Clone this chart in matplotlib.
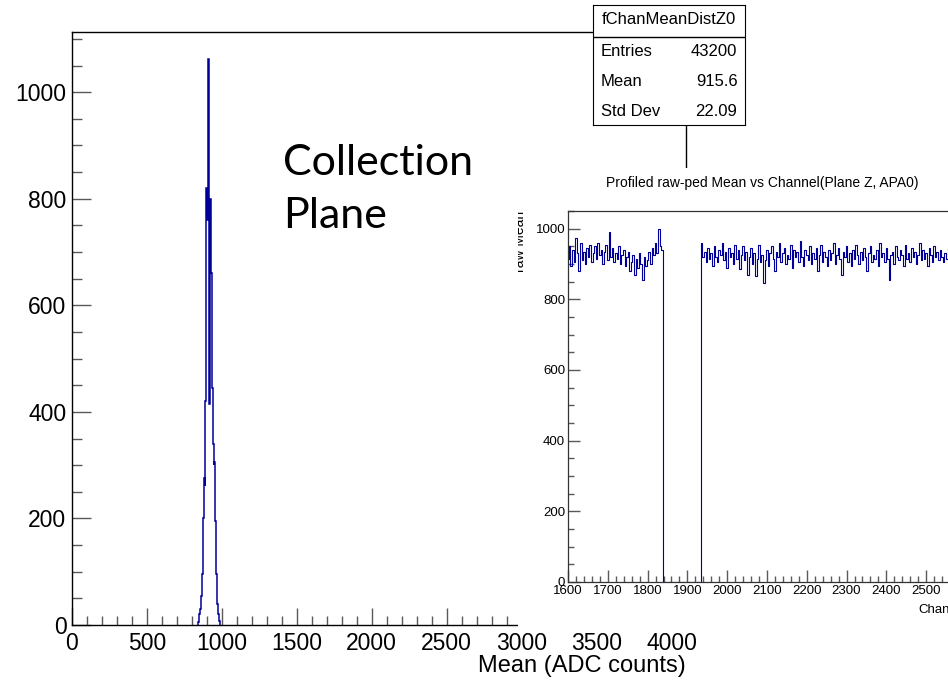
import numpy as np
import matplotlib
matplotlib.use('Agg')
import matplotlib.pyplot as plt
from matplotlib.ticker import MultipleLocator

plt.rcParams['font.family'] = ['Liberation Sans', 'DejaVu Sans']

# histogram of channel means (bin width 4 ADC, starting at 840)
bin_start = 840
bin_width = 4
counts = [5, 15, 20, 25, 30, 55, 70, 95, 110, 200,
          275, 260, 420, 510, 820, 760, 940, 1063, 850, 415,
          800, 745, 660, 560, 445, 340, 300, 305, 230, 195,
          95, 45, 40, 25, 20, 8, 3]

stats_name = 'fChanMeanDistZ0'
stats_rows = [('Entries', '43200'), ('Mean', '915.6'), ('Std Dev', '22.09')]

# profile: mean per channel, one value every 4 channels from 1600
ch_start = 1600
ch_step = 4
prof_means = [915, 950, 895, 940, 905, 975, 930, 880, 960, 910,
              935, 900, 945, 920, 955, 905, 930, 950, 915, 960,
              925, 940, 900, 935, 955, 910, 990, 920, 945, 905,
              930, 915, 950, 900, 925, 940, 895, 920, 935, 880,
              905, 925, 870, 915, 890, 930, 900, 855, 920, 895,
              910, 935, 900, 945, 925, 960, 930, 1000, 950, 940,
              0, 0, 0, 0, 0, 0, 0, 0, 0, 0, 0, 0,
              0, 0, 0, 0, 0, 0, 0, 0, 0, 0, 0, 0,
              960, 920, 935, 905, 945, 915, 930, 895, 950, 920,
              905, 940, 925, 960, 910, 935, 890, 945, 920, 930,
              900, 955, 915, 940, 885, 925, 950, 910, 935, 870,
              920, 945, 900, 930, 865, 915, 955, 905, 925, 845,
              910, 940, 895, 930, 950, 915, 880, 935, 920, 960,
              905, 930, 945, 900, 925, 915, 955, 890, 940, 920,
              935, 905, 965, 920, 895, 940, 925, 910, 950, 900,
              930, 915, 945, 880, 925, 955, 905, 935, 920, 895,
              940, 910, 930, 960, 900, 925, 945, 915, 870, 935,
              920, 950, 905, 930, 895, 940, 915, 955, 925, 900,
              935, 910, 945, 920, 880, 930, 950, 905, 925, 915,
              940, 895, 960, 920, 930, 905, 945, 915, 855, 925,
              935, 900, 950, 920, 910, 940, 925, 895, 955, 915,
              930, 905, 945, 920, 935, 900, 925, 960, 910, 940,
              915, 930, 895, 945, 925, 905, 950, 920, 935, 910,
              940, 920, 905, 930, 915, 945]

blue = '#000099'
tick_col = '0.35'

W, H = 948, 680
fig = plt.figure(figsize=(W / 100, H / 100), dpi=100)


def fx(px):
    return px / W


def fy(py):
    return 1 - py / H


# main histogram
ax = fig.add_axes([fx(72), fy(625), fx(686) - fx(72), fy(32) - fy(625)], zorder=1)
edges = bin_start + bin_width * np.arange(len(counts) + 1)
ax.stairs(counts, edges, color=blue, linewidth=1.1)
ax.set_xlim(0, 4096)
ax.set_ylim(0, 1113)
ax.xaxis.set_major_locator(MultipleLocator(500))
ax.xaxis.set_minor_locator(MultipleLocator(100))
ax.yaxis.set_major_locator(MultipleLocator(200))
ax.yaxis.set_minor_locator(MultipleLocator(50))
ax.tick_params(axis='x', which='major', direction='in', length=12, width=1,
               color=tick_col, labelsize=16.5, pad=5)
ax.tick_params(axis='x', which='minor', direction='in', length=6.5, width=1, color=tick_col)
ax.tick_params(axis='y', which='major', direction='in', length=13.5, width=1,
               color=tick_col, labelsize=16.5, pad=4)
ax.tick_params(axis='y', which='minor', direction='in', length=7, width=1, color=tick_col)
for s in ax.spines.values():
    s.set_linewidth(1.0)
ax.set_xlabel('Mean (ADC counts)', fontsize=17, loc='right', labelpad=0)

fig.text(fx(283), fy(175), 'Collection', fontsize=31, family=['Lato', 'DejaVu Sans'],
         ha='left', va='baseline', zorder=5)
fig.text(fx(283), fy(228), 'Plane', fontsize=31, family=['Lato', 'DejaVu Sans'],
         ha='left', va='baseline', zorder=5)

# stats box
sb = fig.add_axes([fx(593), fy(125), fx(745) - fx(593), fy(5) - fy(125)], zorder=4)
sb.set_xlim(0, 1)
sb.set_ylim(0, 1)
sb.set_xticks([])
sb.set_yticks([])
sb.axhline(1 - 32 / 120, color='black', linewidth=1)
sb.text(0.5, 1 - 15 / 120, stats_name, ha='center', va='center', fontsize=12)
for i, (k, v) in enumerate(stats_rows):
    yy = 1 - (47 + 29.5 * i) / 120
    sb.text(0.05, yy, k, ha='left', va='center', fontsize=12)
    sb.text(0.95, yy, v, ha='right', va='center', fontsize=12)

# white area of the pasted profile plot
bg = fig.add_axes([fx(518), fy(632), 1.0 - fx(518), fy(168) - fy(632)], zorder=2)
bg.set_xticks([])
bg.set_yticks([])
for s in bg.spines.values():
    s.set_visible(False)
bg.text(fx(520), fy(211), 'raw Mean', transform=fig.transFigure, rotation=90,
        ha='center', va='top', fontsize=10, clip_on=True)
bg.text(fx(762), fy(183), 'Profiled raw-ped Mean vs Channel(Plane Z, APA0)',
        transform=fig.transFigure, ha='center', va='center', fontsize=10)

# profile plot
ax2 = fig.add_axes([fx(568), fy(582), fx(950) - fx(568), fy(211) - fy(582)], zorder=3)
channels = ch_start + ch_step * np.arange(len(prof_means))
ax2.plot(channels, prof_means, color=blue, linewidth=0.8, drawstyle='steps-mid')
ax2.set_xlim(1600, 2560)
ax2.set_ylim(0, 1050)
ax2.xaxis.set_major_locator(MultipleLocator(100))
ax2.xaxis.set_minor_locator(MultipleLocator(20))
ax2.yaxis.set_major_locator(MultipleLocator(200))
ax2.yaxis.set_minor_locator(MultipleLocator(50))
ax2.tick_params(which='major', direction='in', length=8.5, width=1, color=tick_col,
                labelsize=9.5, pad=2)
ax2.tick_params(which='minor', direction='in', length=4.3, width=1, color=tick_col)
for s in ax2.spines.values():
    s.set_linewidth(0.9)
    s.set_color('0.2')
ax2.set_xlabel('Channel', fontsize=9.5, loc='right', labelpad=2)
ax2.xaxis.set_label_coords(1.045, -0.06)
ax2.xaxis.label.set_ha('right')

fig.savefig('out.png', dpi=100)
